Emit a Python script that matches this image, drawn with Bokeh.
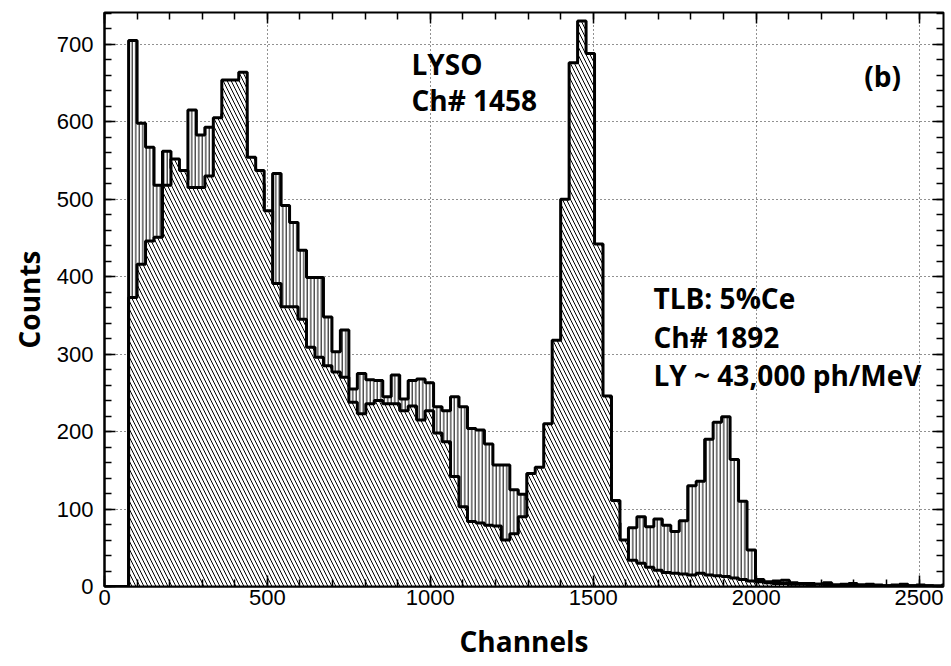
from bokeh.plotting import figure
from bokeh.models import Range1d, SingleIntervalTicker, LinearAxis, Label
from bokeh.embed import file_html
from bokeh.resources import INLINE

# ---- data ----
bin_start = 74      # first filled bin edge (channels)
bin_width = 26      # channels per bin

lyso_counts = [373, 416, 446, 451, 518, 552, 537, 515, 515, 530,
               605, 654, 654, 664, 554, 537, 485, 391, 361, 361,
               345, 309, 296, 285, 277, 270, 238, 223, 236, 240,
               236, 236, 227, 233, 215, 227, 198, 187, 142, 103,
               84, 82, 79, 78, 60, 68, 90, 146, 154, 210,
               318, 500, 676, 730, 688, 442, 246, 111, 60, 34,
               30, 25, 21, 18, 17, 16, 15, 17, 15, 14,
               13, 11, 9, 7, 6, 5, 4, 4, 3, 3,
               2, 3, 2, 2, 2, 1, 2, 1, 1, 1,
               1, 2, 1, 1, 1, 0, 1]

tlb_counts = [705, 598, 567, 518, 562, 540, 525, 615, 583, 593,
              595, 610, 620, 600, 540, 520, 470, 533, 492, 470,
              434, 399, 399, 348, 303, 331, 255, 275, 267, 266,
              245, 273, 242, 266, 268, 263, 232, 227, 245, 232,
              204, 202, 184, 157, 157, 125, 119, 112, 108, 104,
              100, 98, 95, 92, 90, 88, 85, 82, 58, 76,
              90, 77, 87, 79, 71, 85, 130, 136, 190, 212,
              219, 164, 110, 47, 9, 6, 7, 8, 5, 4,
              4, 3, 5, 2, 3, 4, 2, 3, 2, 1,
              2, 3, 1, 2, 1, 1, 2]

x_ticks_step = 500
y_ticks_step = 100

# ---- step coordinates built from the data ----
n = len(lyso_counts)
edges = [0] + [bin_start + bin_width * i for i in range(n + 1)]
lyso_y = [0] + lyso_counts + [lyso_counts[-1]]
tlb_y = [0] + tlb_counts + [tlb_counts[-1]]
zeros = [0] * len(edges)

p = figure(width=951, height=666,
           x_range=Range1d(0, 2575), y_range=Range1d(0, 741),
           output_backend="svg", toolbar_location=None,
           min_border_left=104, min_border_right=8,
           min_border_top=12, min_border_bottom=80)
p.background_fill_color = "white"
p.border_fill_color = "white"
p.outline_line_color = "black"
p.outline_line_width = 2

xt = SingleIntervalTicker(interval=x_ticks_step, num_minor_ticks=5)
yt = SingleIntervalTicker(interval=y_ticks_step, num_minor_ticks=5)
p.xaxis.ticker = xt
p.yaxis.ticker = yt
p.xgrid.ticker = xt
p.ygrid.ticker = yt
p.grid.grid_line_color = "#222222"
p.grid.grid_line_dash = "1 3"
p.grid.grid_line_width = 1

for ax in (p.xaxis[0], p.yaxis[0]):
    ax.major_tick_in = 11
    ax.major_tick_out = 0
    ax.minor_tick_in = 7
    ax.minor_tick_out = 0
    ax.major_tick_line_width = 1.5
    ax.minor_tick_line_width = 1.5
    ax.major_tick_line_color = "black"
    ax.minor_tick_line_color = "black"
    ax.axis_line_color = "black"
    ax.axis_line_width = 2
    ax.major_label_text_font = "Liberation Sans"
    ax.major_label_text_font_size = "22px"
    ax.major_label_text_color = "black"
    ax.axis_label_text_font = "Open Sans"
    ax.axis_label_text_font_style = "bold"
    ax.axis_label_text_font_size = "28px"
    ax.axis_label_text_color = "black"

p.xaxis.axis_label = "Channels"
p.xaxis.major_label_standoff = 3
p.xaxis.axis_label_standoff = 14
p.yaxis.axis_label = "Counts"
p.yaxis.major_label_standoff = 11
p.yaxis.axis_label_standoff = 6

for place, tk in (("above", xt), ("right", yt)):
    ax = LinearAxis(ticker=tk)
    ax.major_tick_in = 11
    ax.major_tick_out = 0
    ax.minor_tick_in = 7
    ax.minor_tick_out = 0
    ax.major_tick_line_width = 1.5
    ax.minor_tick_line_width = 1.5
    ax.axis_line_color = None
    ax.major_label_text_font_size = "1px"
    ax.major_label_text_color = None
    ax.major_label_standoff = 0
    p.add_layout(ax, place)

# TLB: vertical hatch (drawn first, underneath)
p.varea_step(x=edges, y1=zeros, y2=tlb_y, step_mode="after",
             fill_color="white", hatch_pattern="|", hatch_color="black",
             hatch_scale=3.5, hatch_weight=1)
p.step(x=edges, y=tlb_y, mode="after", line_color="black", line_width=3)

# LYSO: diagonal hatch, opaque, on top
p.varea_step(x=edges, y1=zeros, y2=lyso_y, step_mode="after",
             fill_color="white", hatch_pattern="\\", hatch_color="black",
             hatch_scale=8, hatch_weight=1)
p.step(x=edges, y=lyso_y, mode="after", line_color="black", line_width=3)

def add_text(x, y, txt):
    p.add_layout(Label(x=x, y=y, text=txt, text_font="Open Sans",
                       text_font_style="bold", text_font_size="28px",
                       text_color="black", text_baseline="alphabetic"))

add_text(942, 675, "LYSO")
add_text(942, 628, "Ch# 1458")
add_text(2332, 659, "(b)")
add_text(1685, 372, "TLB: 5%Ce")
add_text(1685, 322, "Ch# 1892")
add_text(1685, 273, "LY ~ 43,000 ph/MeV")

open("out.html", "w").write(file_html(p, INLINE))
